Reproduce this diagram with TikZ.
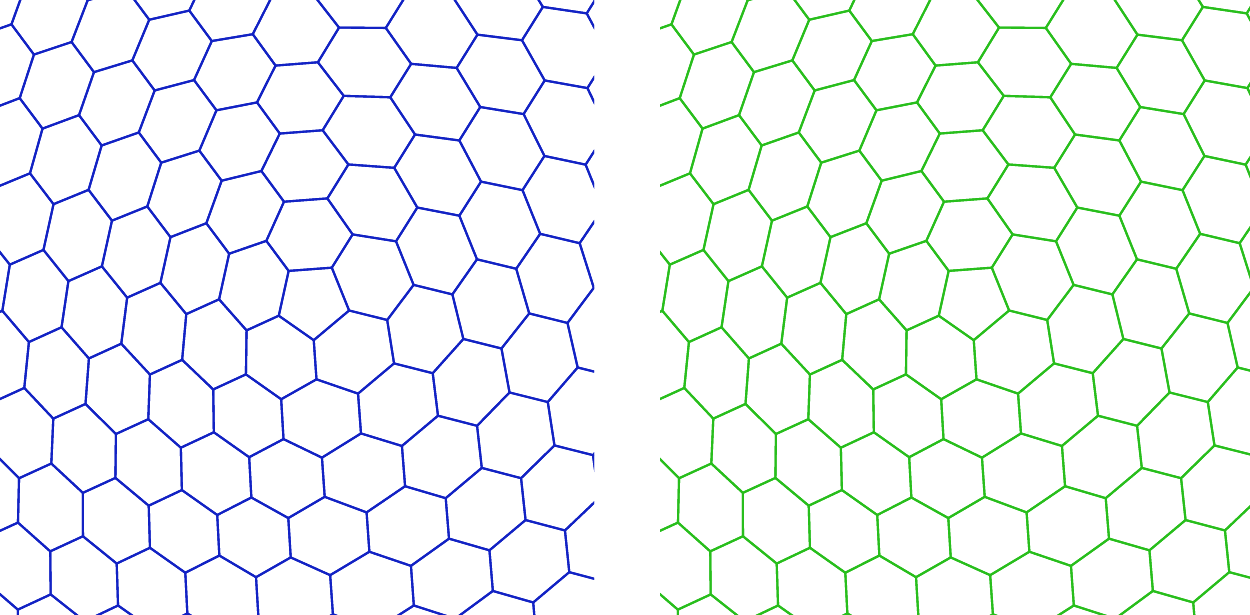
\documentclass[tikz,border=0pt]{standalone}
\usepackage{tikz}
\definecolor{meshblue}{RGB}{18,34,196}
\definecolor{meshgreen}{RGB}{40,190,28}

\begin{document}
\begin{tikzpicture}[x=1pt,y=1pt,wall/.style={line width=2.1pt,line join=round}]
\useasboundingbox (0,0) rectangle (1250,614);

\foreach \ox/\col/\xa/\xb in {311/meshblue/0/594,971/meshgreen/660/1250}{
\begin{scope}
\clip (\xa,0) rectangle (\xb,614);
\foreach \k/\b in {0/58,1/130,2/202,3/274,4/346}{
\pgfmathsetmacro\px{39.3*cos(\b)}
\pgfmathsetmacro\px{ifthenelse(\px<0,0.885*\px,\px)}
\coordinate (p\k) at ({\ox+\px},{313+39.3*sin(\b)});
}
\draw[wall,color=\col] (p0)--(p1)--(p2)--(p3)--(p4)--cycle;
\foreach \i in {-12,...,12}{
\foreach \j in {-9,...,9}{
\pgfmathsetmacro\cx{\i+0.5*\j}
\pgfmathsetmacro\cy{0.866025*\j}
\pgfmathsetmacro\cr{veclen(\cx,\cy)}
\pgfmathsetmacro\ca{mod(atan2(\cy,\cx+0.0001)+360,360)}
\pgfmathtruncatemacro\keep{(\cr>0.5)&&(\cr<8.2)&&(\ca>=15)&&(\ca<315)}
\ifnum\keep=1
\foreach \k in {0,...,5}{
\pgfmathsetmacro\vx{\cx+0.57735*cos(30+60*\k)}
\pgfmathsetmacro\vy{\cy+0.57735*sin(30+60*\k)}
\pgfmathsetmacro\va{atan2(\vy,\vx)}
\pgfmathsetmacro\vb{1.2*(\va+360*round((\ca-(\va))/360)-15)+40}
\pgfmathsetmacro\vr{68*veclen(\vx,\vy)}
\pgfmathsetmacro\px{\vr*cos(\vb)}
\pgfmathsetmacro\px{ifthenelse(\px<0,0.885*\px,\px)}
\coordinate (v\k) at ({\ox+\px},{313+\vr*sin(\vb)});
}
\draw[wall,color=\col] (v0)--(v1)--(v2)--(v3)--(v4)--(v5)--cycle;
\fi
}}
\end{scope}
}
\end{tikzpicture}
\end{document}
